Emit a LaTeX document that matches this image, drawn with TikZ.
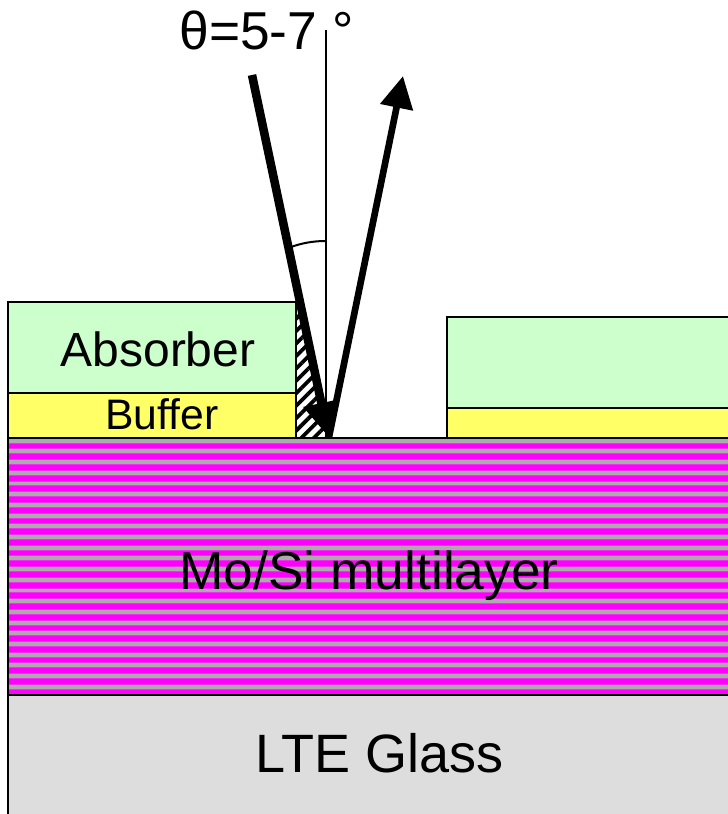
\documentclass[tikz,border=0pt]{standalone}
\usepackage{fontspec}
\setmainfont{Liberation Sans}[Ligatures=NoCommon]
\usetikzlibrary{arrows.meta,patterns.meta}
\definecolor{absorbergreen}{HTML}{CCFFCC}
\definecolor{bufferyellow}{HTML}{FFFF66}
\definecolor{stripegray}{HTML}{ABABAB}
\definecolor{stripepink}{HTML}{FF00FF}
\definecolor{stripeedge}{HTML}{F030F0}
\definecolor{glassgray}{HTML}{DDDDDD}
\tikzset{
    layer/.style={draw=black, line width=1.5pt},
    lbl/.style={inner sep=0pt, font=\fontsize{40}{40}\selectfont},
}
\begin{document}
\begin{tikzpicture}[x=0.75pt, y=-0.75pt]
    \clip (0, 0) rectangle (728, 814);

    % multilayer stripes
    \fill[stripegray] (8, 438) rectangle (740, 695);
    \foreach \y in {0, ..., 23} {
        \fill[stripeedge] (8, 442.6 + 10.7 * \y) rectangle (740, 449.4 + 10.7 * \y);
        \fill[stripepink] (8, 443.6 + 10.7 * \y) rectangle (740, 448.4 + 10.7 * \y);
    }
    \draw[layer] (8, 438) rectangle (740, 695);
    \draw[layer, fill=glassgray] (8, 695) rectangle (740, 830);

    % absorber stacks
    \draw[layer, fill=absorbergreen] (8, 302) rectangle (296, 393);
    \draw[layer, fill=bufferyellow] (8, 393) rectangle (296, 438);
    \draw[layer, fill=absorbergreen] (447, 317) rectangle (740, 408);
    \draw[layer, fill=bufferyellow] (447, 408) rectangle (740, 438);

    % shadow
    \fill[pattern={Lines[angle=45, distance=6.6pt, line width=2.8pt]}] (297, 305) -- (297, 437) -- (329, 437) -- cycle;

    \coordinate (normaltop) at (325.5, 30);
    \coordinate (normalfoot) at (325.5, 438);
    \coordinate (instart) at (252, 75);
    \coordinate (spot) at (328.5, 437);
    \coordinate (outstart) at (329, 437);
    \coordinate (outend) at (403, 76);
    \coordinate (arcleft) at (291, 247);
    \coordinate (arcright) at (325, 241);

    \draw[line width=1.5pt] (normaltop) -- (normalfoot);
    \draw[line width=1.5pt] (arcleft) .. controls (302, 243) and (314, 241) .. (arcright);
    \draw[line width=6.4pt, -{Triangle[length=26pt, width=26pt]}] (instart) -- (spot);
    \draw[line width=5pt, -{Triangle[length=24pt, width=24pt]}] (outstart) -- (outend);

    \node[lbl, font=\fontsize{36}{36}\selectfont] (absorber) at (158, 349) {Absorber};
    \node[lbl, font=\fontsize{32}{32}\selectfont] (buffer) at (162, 414) {Buffer};
    \node[lbl] (multilayer) at (369, 576) {Mo/Si multilayer};
    \node[lbl, font=\fontsize{40.5}{40.5}\selectfont] (glass) at (380, 753) {LTE Glass};
    \node[lbl] (angle) at (266.5, 30) {θ=5-7 °};
\end{tikzpicture}
\end{document}
